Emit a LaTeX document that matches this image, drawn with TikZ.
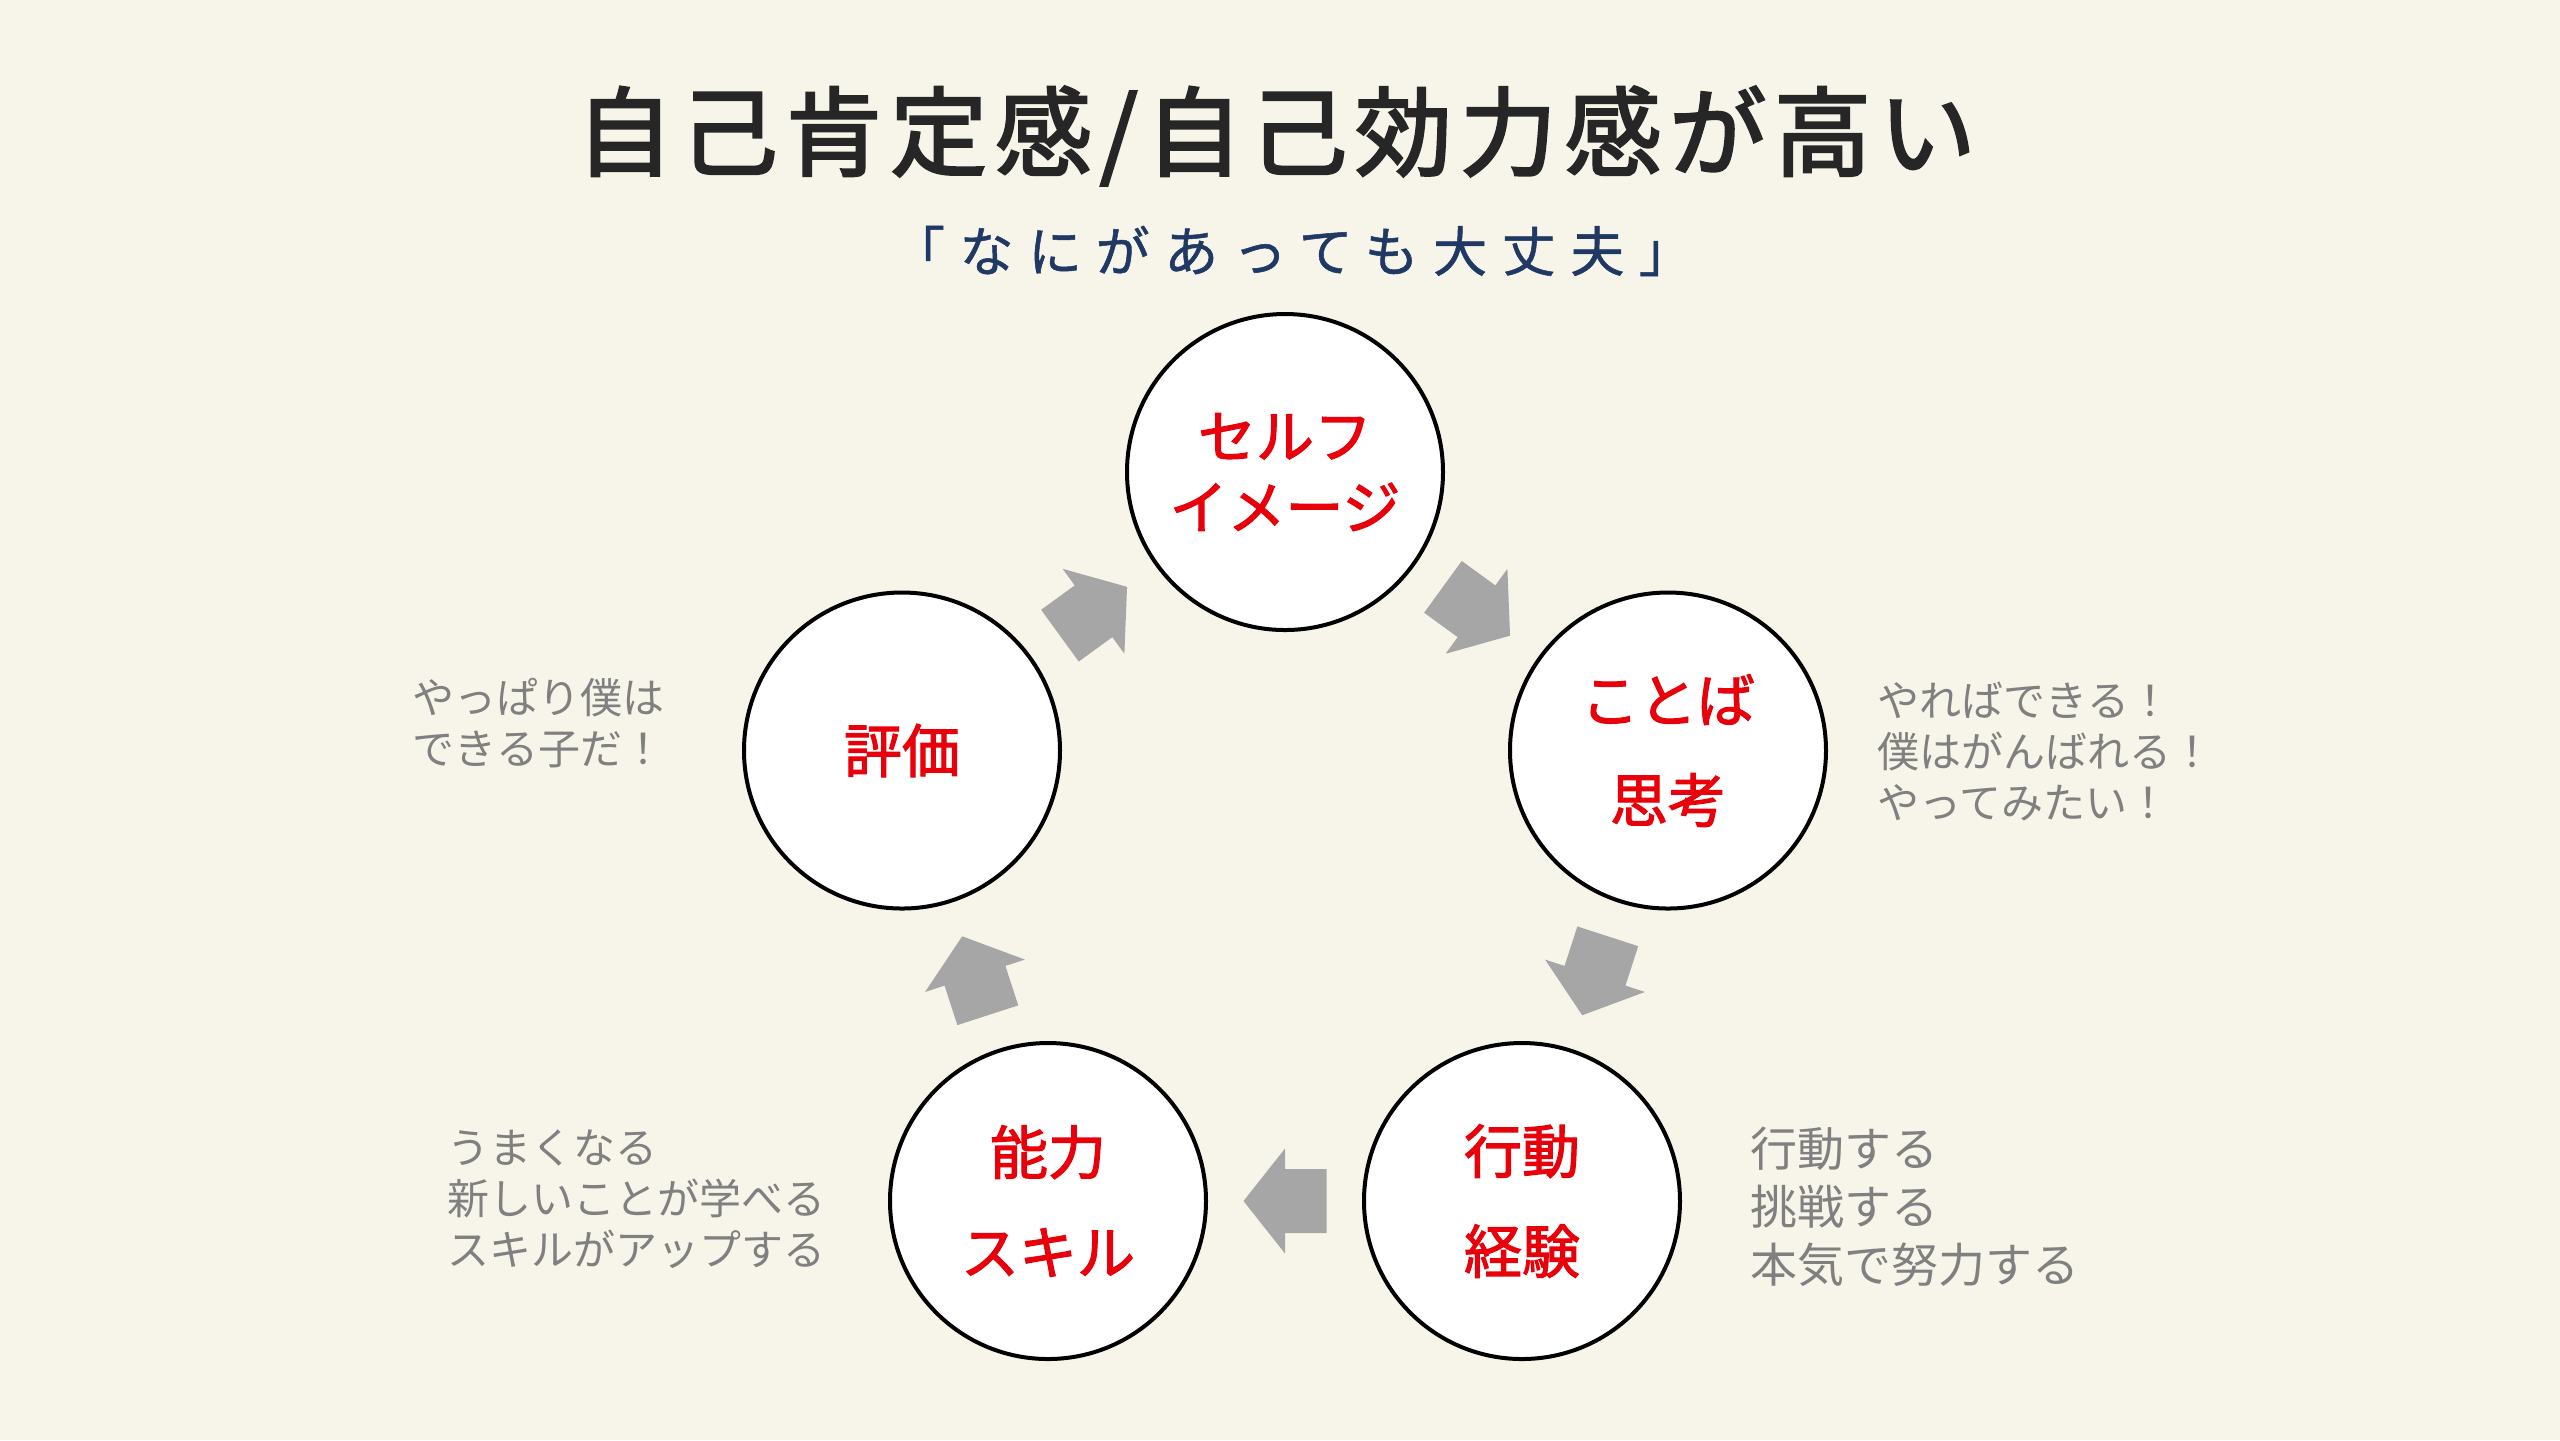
\documentclass[tikz,border=0pt]{standalone}
\usepackage{fontspec}
\usetikzlibrary{calc}
\newfontfamily\jp{Noto Sans CJK JP}
\newfontfamily\jptitle{Noto Sans CJK JP}[LetterSpace=8, FakeBold=2.5]
\newfontfamily\jpsp{Noto Sans CJK JP}[LetterSpace=27, FakeBold=1]
\newfontfamily\jplab{Noto Sans CJK JP}[FakeBold=2]
\definecolor{bgc}{HTML}{F7F5E9}
\definecolor{titlec}{HTML}{262626}
\definecolor{subc}{HTML}{1F3864}
\definecolor{labred}{HTML}{E8000A}
\definecolor{notegray}{HTML}{808080}
\definecolor{arrowgray}{HTML}{A6A6A6}
\newcommand\cycarrow[2]{%
  \fill[cyc] let \p1=(#1.center), \p2=(#2.center), \n1={atan2(\y2-\y1,\x2-\x1)}, \p3=($(#1.center)!0.5!(#2.center)$) in
    ($(\p3)+(\n1:10.375pt)$) -- ($(\p3)+(\n1+90:13.125pt)$) -- ($(\p3)+(\n1+90:8pt)$)
    -- ($(\p3)+(\n1+180:10.375pt)+(\n1+90:8pt)$) -- ($(\p3)+(\n1+180:10.375pt)+(\n1-90:8pt)$)
    -- ($(\p3)+(\n1-90:8pt)$) -- ($(\p3)+(\n1-90:13.125pt)$) -- cycle;}
\begin{document}
\begin{tikzpicture}[x=0.25pt,y=-0.25pt,
  stage/.style={circle, draw=black, line width=1pt, fill=white, minimum size=79pt, inner sep=0pt,
    text=labred, align=center, font=\jplab\fontsize{14.5pt}{25pt}\selectfont},
  note/.style={anchor=west, inner sep=0pt, align=left, text=notegray,
    font=\jp\fontsize{10.5pt}{12.75pt}\selectfont},
  cyc/.style={fill=arrowgray}]
\fill[bgc] (0,0) rectangle (2560,1440);
\useasboundingbox (0,0) rectangle (2560,1440);
% title
\node[text=titlec, font=\jptitle\fontsize{24.25pt}{28pt}\selectfont, inner sep=0pt] (title) at (1276,136) {自己肯定感/自己効力感が高い};
\node[text=subc, font=\jpsp\fontsize{13.5pt}{16pt}\selectfont, inner sep=0pt] (sub) at (1292,251) {「なにがあっても大丈夫」};
% cycle
\node[stage, font=\jplab\fontsize{14.5pt}{17.75pt}\selectfont] (self) at (1285,472) {セルフ\\イメージ};
\node[stage] (word) at (1668,750.5) {ことば\\思考};
\node[stage] (act) at (1522,1201) {行動\\経験};
\node[stage] (skill) at (1048,1201) {能力\\スキル};
\node[stage] (eval) at (902,750.5) {評価};
\cycarrow{self}{word}
\cycarrow{word}{act}
\cycarrow{act}{skill}
\cycarrow{skill}{eval}
\cycarrow{eval}{self}
% notes
\node[note] (n1) at (412,723) {やっぱり僕は\\できる子だ！};
\node[note] (n2) at (1877,751) {やればできる！\\僕はがんばれる！\\やってみたい！};
\node[note, font=\jp\fontsize{11.75pt}{14.5pt}\selectfont] (n3) at (1750,1207) {行動する\\挑戦する\\本気で努力する};
\node[note] (n4) at (447,1199) {うまくなる\\新しいことが学べる\\スキルがアップする};
\end{tikzpicture}
\end{document}
